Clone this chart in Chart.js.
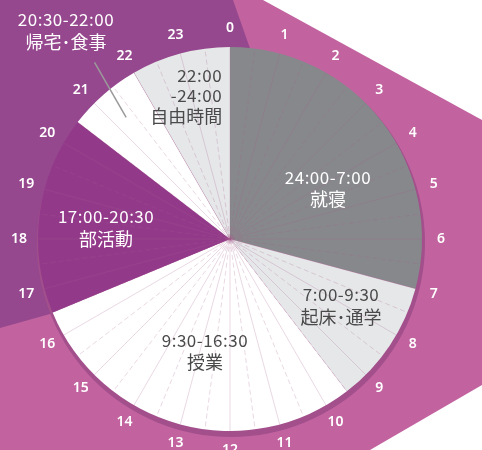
<!DOCTYPE html>
<html>
<head>
<meta charset="utf-8">
<script src="https://cdn.jsdelivr.net/npm/chart.js@4"></script>
<style>
  html, body { margin: 0; padding: 0; background: #ffffff; }
  #c { display: block; }
</style>
</head>
<body>
<canvas id="c" width="482" height="450"></canvas>
<script>
// ---- data ----
const hourLabels = ['0','1','2','3','4','5','6','7','8','9','10','11','12','13','14','15','16','17','18','19','20','21','22','23'];
const activities = ['就寝', '起床･通学', '授業', '部活動', '帰宅･食事', '自由時間'];
const timeRanges = [['24:00-7:00'], ['7:00-9:30'], ['9:30-16:30'], ['17:00-20:30'], ['20:30-22:00'], ['22:00', '-24:00']];
const durations = [7, 2.5, 7, 4, 1.5, 2];   // hours, starting at 0:00
const sliceColors = ['#87888c', '#e6e7e9', '#ffffff', '#93398a', '#ffffff', '#e6e7e9'];
const textColors = ['#ffffff', '#4a4a4a', '#4a4a4a', '#ffffff', '#ffffff', '#4a4a4a'];
// label anchor: hour angle and radius as fraction of pie radius
const labelHour = [4.17, 8.07, 12.84, 18.34, 21.45, 23.79];
const labelRadius = [0.575, 0.675, 0.598, 0.648, 1.38, 0.746];
const labelAlign = ['center', 'center', 'center', 'center', 'center', 'right'];

const PINK = '#c263a0';
const PURPLE_BG = '#96488e';

function hourAngle(h) { return -Math.PI / 2 + h / 24 * Math.PI * 2; }

const decor = {
  id: 'decor',
  beforeDraw(chart) {
    const ctx = chart.ctx;
    ctx.save();
    ctx.fillStyle = '#ffffff';
    ctx.fillRect(0, 0, chart.width, chart.height);
    ctx.fillStyle = PINK;
    ctx.beginPath();
    ctx.moveTo(0, 0); ctx.lineTo(263, 0); ctx.lineTo(482, 120); ctx.lineTo(482, 385);
    ctx.lineTo(370, 450); ctx.lineTo(0, 450); ctx.closePath();
    ctx.fill();
    ctx.fillStyle = PURPLE_BG;
    ctx.beginPath();
    ctx.moveTo(0, 0); ctx.lineTo(233, 0); ctx.lineTo(317, 239); ctx.lineTo(0, 328); ctx.closePath();
    ctx.fill();
    ctx.restore();
  },
  beforeDatasetsDraw(chart) {
    const arc = chart.getDatasetMeta(0).data[0];
    if (!arc) return;
    const ctx = chart.ctx;
    ctx.save();
    ctx.fillStyle = '#a24f8c';
    ctx.beginPath();
    ctx.arc(arc.x + 1, arc.y + 4, arc.outerRadius + 2, 0, Math.PI * 2);
    ctx.fill();
    ctx.restore();
  },
  afterDatasetsDraw(chart) {
    const arc = chart.getDatasetMeta(0).data[0];
    if (!arc) return;
    const ctx = chart.ctx;
    const cx = arc.x, cy = arc.y, r = arc.outerRadius;
    ctx.save();
    ctx.lineWidth = 1;
    ctx.strokeStyle = 'rgba(165, 90, 140, 0.24)';
    for (let k = 0; k < 48; k++) {
      const a = hourAngle(k / 2);
      ctx.setLineDash(k % 2 === 0 ? [] : [5, 3]);
      ctx.beginPath();
      ctx.moveTo(cx, cy);
      ctx.lineTo(cx + Math.cos(a) * r, cy + Math.sin(a) * r);
      ctx.stroke();
    }
    ctx.setLineDash([]);
    ctx.fillStyle = '#ffffff';
    ctx.font = '600 14px "Noto Sans", "DejaVu Sans", sans-serif';
    ctx.textAlign = 'center';
    ctx.textBaseline = 'middle';
    hourLabels.forEach((t, i) => {
      const a = hourAngle(i);
      ctx.fillText(t, cx + Math.cos(a) * (r + 19), cy + Math.sin(a) * (r + 19));
    });
    ctx.strokeStyle = '#9a9a9a';
    ctx.lineWidth = 1.5;
    const a1 = hourAngle(21.5), a2 = hourAngle(21.3);
    ctx.beginPath();
    ctx.moveTo(cx + Math.cos(a1) * r * 1.159, cy + Math.sin(a1) * r * 1.159);
    ctx.lineTo(cx + Math.cos(a2) * r * 0.833, cy + Math.sin(a2) * r * 0.833);
    ctx.stroke();
    activities.forEach((name, i) => {
      const lines = timeRanges[i].concat([name]);
      const a = hourAngle(labelHour[i]);
      const x = cx + Math.cos(a) * r * labelRadius[i];
      const y = cy + Math.sin(a) * r * labelRadius[i];
      const lh = lines.length > 2 ? 20.5 : 22;
      const y0 = y - (lines.length - 1) * lh / 2;
      ctx.fillStyle = textColors[i];
      ctx.textAlign = labelAlign[i];
      lines.forEach((ln, j) => {
        const isName = j === lines.length - 1;
        ctx.letterSpacing = isName ? '0px' : '0.5px';
        ctx.font = (isName ? '400 18px ' : '400 17px ') + '"Noto Sans CJK JP", "Noto Sans", sans-serif';
        ctx.fillText(ln, x, y0 + j * lh);
      });
    });
    ctx.restore();
  }
};

new Chart(document.getElementById('c'), {
  type: 'pie',
  data: {
    labels: activities,
    datasets: [{
      data: durations,
      backgroundColor: sliceColors,
      borderWidth: 0,
      hoverOffset: 0,
      offset: 0
    }]
  },
  options: {
    responsive: false,
    devicePixelRatio: 1,
    animation: false,
    events: [],
    layout: { padding: { left: 38, right: 60, top: 47, bottom: 19 } },
    plugins: { legend: { display: false }, tooltip: { enabled: false }, title: { display: false } }
  },
  plugins: [decor]
});
</script>
</body>
</html>
